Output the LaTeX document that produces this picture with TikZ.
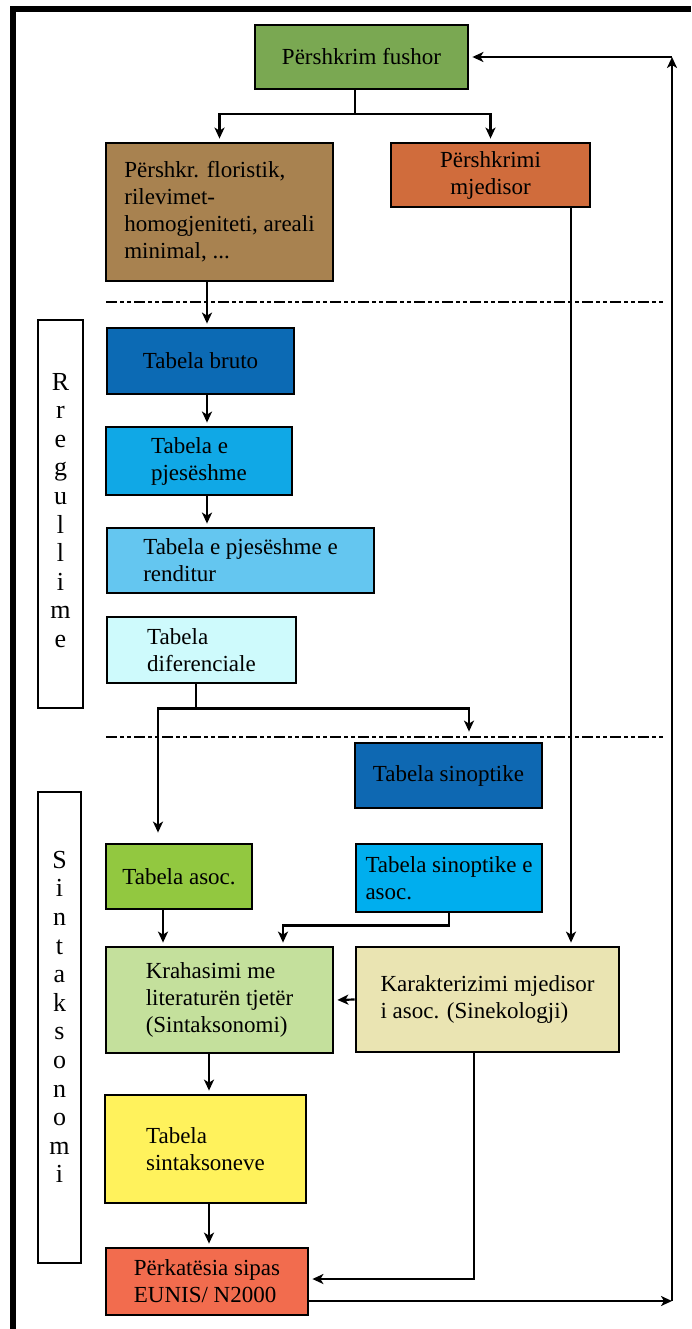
\documentclass[tikz,border=0pt]{standalone}
\usepackage{fontspec}
\setmainfont{Liberation Serif}
\usetikzlibrary{arrows.meta,calc}
\definecolor{cFushor}{RGB}{122,168,82}
\definecolor{cFlor}{RGB}{168,130,80}
\definecolor{cMjed}{RGB}{208,108,60}
\definecolor{cBruto}{RGB}{12,106,180}
\definecolor{cPjes}{RGB}{16,168,230}
\definecolor{cRend}{RGB}{100,198,240}
\definecolor{cDif}{RGB}{206,250,252}
\definecolor{cSinopt}{RGB}{14,104,178}
\definecolor{cAsoc}{RGB}{146,200,64}
\definecolor{cSinAsoc}{RGB}{0,174,238}
\definecolor{cKrah}{RGB}{196,224,156}
\definecolor{cKar}{RGB}{234,228,178}
\definecolor{cSint}{RGB}{255,242,92}
\definecolor{cEunis}{RGB}{242,108,78}
\begin{document}
\begin{tikzpicture}[x=1pt,y=-1pt,
  box/.style={draw, line width=2.8pt, rectangle, align=left, inner sep=0pt,
    font=\fontsize{23}{27}\selectfont},
  lblbox/.style={draw, line width=2.6pt, rectangle, inner sep=0pt},
  letters/.style={align=center, inner sep=0pt, font=\fontsize{26}{28.6}\selectfont},
  arr/.style={line width=2.2pt, -{Stealth[length=11pt,width=10pt,inset=3pt]}, shorten >=3pt},
  sepline/.style={line width=2.2pt, dash pattern=on 11pt off 3pt on 4pt off 3pt on 4pt off 3pt}]
\useasboundingbox (0,0) rectangle (691,1329);
\fill[white] (0,0) rectangle (691,1329);
% frame
\draw[line width=6pt, line join=miter] (13,1329) -- (13,9) -- (691,9);

% separators
\draw[sepline] (106,302) -- (664,302);
\draw[sepline] (106,737) -- (664,737);

% side labels
\node[lblbox, minimum width=45pt, minimum height=388pt] (regbox) at (60.5,514) {};
\node[letters] (regtxt) at (60.5,510.5) {R\\r\\e\\g\\u\\l\\l\\i\\m\\e};
\node[lblbox, minimum width=43pt, minimum height=471pt] (sinbox) at (59.5,1027.5) {};
\node[letters] (sintxt) at (59.5,1017) {S\\i\\n\\t\\a\\k\\s\\o\\n\\o\\m\\i};

% boxes
\node[box, fill=cFushor, minimum width=213pt, minimum height=64pt] (fushor) at (361.5,57) {Përshkrim fushor};
\node[box, fill=cFlor, minimum width=227pt, minimum height=138pt] (flor) at (219.5,212) {Përshkr. floristik,\\rilevimet-\\homogjeniteti, areali\\minimal, ...};
\node[box, fill=cMjed, align=center, minimum width=199pt, minimum height=64pt] (mjed) at (490.5,175) {Përshkrimi\\mjedisor};
\node[box, fill=cBruto, minimum width=187pt, minimum height=66pt] (bruto) at (200.5,361) {Tabela bruto};
\node[box, fill=cPjes, minimum width=186pt, minimum height=68pt] (pjes) at (199,461) {Tabela e\\pjesëshme};
\node[box, fill=cRend, minimum width=267pt, minimum height=65pt] (rend) at (240.5,560.5) {Tabela e pjesëshme e\\renditur};
\node[box, fill=cDif, minimum width=189pt, minimum height=66pt] (dif) at (201.5,650) {Tabela\\diferenciale};
\node[box, fill=cSinopt, minimum width=187pt, minimum height=65pt] (sinopt) at (448.5,775.5) {Tabela sinoptike};
\node[box, fill=cAsoc, minimum width=146pt, minimum height=65pt] (asoc) at (179,876.5) {Tabela asoc.};
\node[box, fill=cSinAsoc, minimum width=186pt, minimum height=68pt] (sinasoc) at (449,878) {Tabela sinoptike e\\asoc.};
\node[box, fill=cKrah, minimum width=227pt, minimum height=106pt] (krah) at (219.5,1000) {Krahasimi me\\literaturën tjetër\\(Sintaksonomi)};
\node[box, fill=cKar, minimum width=263pt, minimum height=105pt] (kar) at (487.5,999.5) {Karakterizimi mjedisor\\i asoc. (Sinekologji)};
\node[box, fill=cSint, minimum width=201pt, minimum height=108pt] (sint) at (205.5,1149) {Tabela\\sintaksoneve};
\node[box, fill=cEunis, minimum width=202pt, minimum height=67pt] (eunis) at (207,1281.5) {Përkatësia sipas\\EUNIS/ N2000};

% connectors
\draw[arr] ([xshift=-6.5pt]fushor.south) -- ++(0,24) -| (flor.north);
\draw[arr] ([xshift=-6.5pt]fushor.south) -- ++(0,24) -| (mjed.north);
\draw[arr] ([xshift=-12.5pt]flor.south) -- ([xshift=-12.5pt]flor.south |- bruto.north);
\draw[arr] ([xshift=6.5pt]bruto.south) -- ([xshift=6.5pt]bruto.south |- pjes.north);
\draw[arr] ([xshift=8pt]pjes.south) -- ([xshift=8pt]pjes.south |- rend.north);
\draw[arr, shorten >=10pt] ([xshift=-5.5pt]dif.south) -- ++(0,24) -| ([xshift=-21pt]asoc.north);
\draw[arr, shorten >=10pt] ([xshift=-5.5pt]dif.south) -- ++(0,24) -| ([xshift=20.5pt]sinopt.north);
\draw[arr] ([xshift=80.5pt]mjed.south) -- ([xshift=80.5pt]mjed.south |- kar.north);
\draw[arr] ([xshift=-16pt]asoc.south) -- ([xshift=-16pt]asoc.south |- krah.north);
\draw[arr] (sinasoc.south) -- ++(0,12) -| ([xshift=63.5pt]krah.north);
\draw[arr] (kar.west) -- (krah.east);
\draw[arr] ([xshift=-10.5pt]krah.south) -- ([xshift=-10.5pt]krah.south |- sint.north);
\draw[arr] ([xshift=3.5pt]sint.south) -- ([xshift=3.5pt]sint.south |- eunis.north);
\draw[arr] ([xshift=-13.5pt]kar.south) |- ([yshift=2.5pt]eunis.east);
% feedback loop
\coordinate (cb) at (672,1301);
\coordinate (ct) at (672,57);
\draw[arr, shorten >=0pt] ([yshift=-19.5pt]eunis.east) -- (cb);
\draw[arr, shorten >=0pt] (cb) -- (ct);
\draw[arr] (ct) -- (fushor.east);
\end{tikzpicture}
\end{document}
